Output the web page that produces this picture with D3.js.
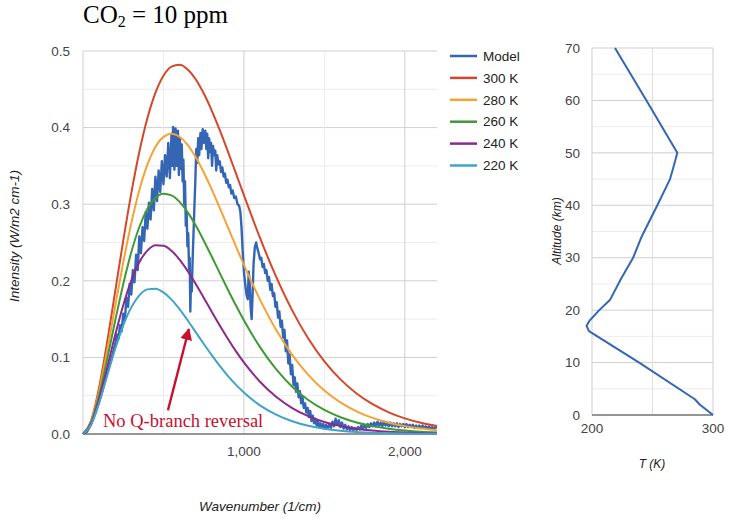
<!DOCTYPE html>
<html><head><meta charset="utf-8">
<script src="https://cdnjs.cloudflare.com/ajax/libs/d3/7.8.5/d3.min.js"></script>
<style>
body{margin:0;background:#fff;}
svg text{font-family:Arial,"Liberation Sans",sans-serif;}
svg text.serif{font-family:"Liberation Serif","Times New Roman",serif;}
</style></head><body>
<svg id="c" width="751" height="522"></svg>
<script>
// ---------- DATA ----------
const planckWn = [0,50,100,150,200,250,300,350,400,450,500,550,600,650,700,750,800,850,900,950,1000,1100,1200,1300,1400,1500,1600,1700,1800,1900,2000,2100,2200];
const planck300 = [0,0.0173,0.0608,0.1199,0.1860,0.2524,0.3142,0.3681,0.4122,0.4454,0.4677,0.4795,0.4819,0.4760,0.4632,0.4448,0.4222,0.3966,0.3690,0.3405,0.3118,0.2560,0.2054,0.1614,0.1247,0.0949,0.0713,0.0529,0.0389,0.0283,0.0204,0.0146,0.0104];
const planck280 = [0,0.0160,0.0557,0.1087,0.1668,0.2237,0.2751,0.3183,0.3516,0.3748,0.3879,0.3920,0.3881,0.3775,0.3616,0.3418,0.3194,0.2951,0.2701,0.2452,0.2208,0.1754,0.1360,0.1033,0.0772,0.0568,0.0412,0.0296,0.0210,0.0148,0.0103,0.0071,0.0049];
const planck260 = [0,0.0147,0.0506,0.0976,0.1479,0.1956,0.2372,0.2702,0.2939,0.3082,0.3137,0.3116,0.3031,0.2896,0.2724,0.2527,0.2317,0.2101,0.1887,0.1680,0.1484,0.1134,0.0846,0.0618,0.0444,0.0314,0.0219,0.0151,0.0103,0.0070,0.0047,0.0031,0.0021];
const planck240 = [0,0.0134,0.0456,0.0866,0.1292,0.1682,0.2004,0.2243,0.2394,0.2463,0.2457,0.2391,0.2277,0.2130,0.1961,0.1780,0.1596,0.1416,0.1243,0.1082,0.0934,0.0682,0.0486,0.0339,0.0233,0.0157,0.0105,0.0069,0.0045,0.0029,0.0019,0.0012,0.0007];
const planck220 = [0,0.0121,0.0405,0.0758,0.1109,0.1416,0.1653,0.1810,0.1888,0.1897,0.1848,0.1754,0.1629,0.1485,0.1332,0.1178,0.1029,0.0889,0.0760,0.0644,0.0541,0.0374,0.0253,0.0167,0.0108,0.0069,0.0044,0.0027,0.0017,0.0010,0.0006,0.0004,0.0002];

const modelWn = [0,25,50,75,100,125,150,175,200,210,220,230,240,250,260,270,280,290,300,310,320,330,340,350,360,370,380,390,400,410,420,430,440,450,460,470,480,490,500,510,520,530,540,550,555,560,568,575,582,590,596,602,608,614,619,624,629,634,639,644,649,654,659,663,667,671,676,682,690,698,704,710,716,722,730,736,744,752,760,766,772,778,784,790,796,802,808,815,822,828,834,842,850,858,866,874,882,890,898,906,914,922,930,940,950,960,970,978,985,992,1000,1008,1016,1024,1030,1036,1042,1048,1054,1060,1068,1076,1084,1092,1100,1108,1116,1124,1132,1140,1148,1156,1164,1172,1180,1188,1196,1204,1212,1220,1228,1236,1244,1252,1260,1268,1276,1284,1292,1300,1308,1316,1324,1332,1340,1348,1356,1364,1372,1380,1388,1396,1404,1412,1420,1428,1436,1444,1452,1460,1468,1476,1484,1492,1500,1510,1520,1530,1540,1550,1560,1570,1580,1590,1600,1610,1620,1630,1640,1650,1660,1670,1680,1690,1700,1710,1720,1730,1740,1750,1760,1770,1780,1790,1800,1810,1820,1830,1840,1850,1860,1870,1880,1890,1900,1910,1920,1930,1940,1950,1960,1970,1980,1990,2000,2010,2020,2030,2040,2050,2060,2070,2080,2090,2100,2110,2120,2130,2140,2150,2160,2170,2180,2190,2200];
const modelI = [0,0.003,0.0125,0.026,0.042,0.060,0.079,0.097,0.117,0.130,0.124,0.142,0.134,0.157,0.148,0.178,0.166,0.196,0.182,0.214,0.198,0.234,0.214,0.258,0.236,0.270,0.252,0.290,0.268,0.302,0.280,0.320,0.292,0.336,0.304,0.344,0.316,0.356,0.326,0.364,0.336,0.380,0.334,0.392,0.350,0.401,0.345,0.399,0.350,0.396,0.338,0.386,0.346,0.378,0.330,0.358,0.300,0.330,0.272,0.290,0.245,0.262,0.215,0.230,0.160,0.198,0.186,0.232,0.282,0.330,0.372,0.354,0.386,0.364,0.393,0.372,0.398,0.380,0.396,0.372,0.392,0.360,0.386,0.368,0.380,0.350,0.376,0.364,0.370,0.344,0.364,0.352,0.356,0.342,0.348,0.336,0.340,0.328,0.332,0.322,0.325,0.314,0.318,0.308,0.310,0.300,0.298,0.290,0.270,0.240,0.212,0.196,0.182,0.176,0.212,0.196,0.165,0.150,0.182,0.222,0.244,0.250,0.242,0.236,0.228,0.230,0.218,0.222,0.210,0.214,0.200,0.205,0.188,0.196,0.180,0.184,0.166,0.172,0.152,0.160,0.140,0.148,0.126,0.136,0.108,0.122,0.092,0.104,0.078,0.090,0.064,0.074,0.055,0.066,0.048,0.056,0.040,0.048,0.034,0.040,0.028,0.034,0.022,0.030,0.017,0.024,0.014,0.020,0.011,0.017,0.009,0.014,0.008,0.013,0.007,0.012,0.007,0.013,0.008,0.016,0.010,0.020,0.012,0.018,0.009,0.015,0.007,0.012,0.006,0.010,0.005,0.009,0.005,0.008,0.005,0.009,0.006,0.011,0.007,0.012,0.008,0.013,0.009,0.014,0.010,0.015,0.010,0.016,0.011,0.015,0.010,0.016,0.011,0.015,0.010,0.015,0.010,0.014,0.010,0.014,0.009,0.013,0.010,0.013,0.009,0.013,0.009,0.012,0.009,0.012,0.008,0.011,0.008,0.011,0.008,0.011,0.008,0.010,0.007,0.010,0.007,0.009,0.007,0.009,0.008];

const seriesNames = ["Model","300 K","280 K","260 K","240 K","220 K"];
const seriesColors = ["#3466b3","#d5472b","#f5a236","#3f9a35","#8c2a8c","#40a3c8"];

const intensityTicks = [0,0.1,0.2,0.3,0.4,0.5];
const wnTicks = [1000,2000];

const altKm = [0,2,3,10,16,17,18,20,22,26,30,34,40,45,47,50,60,70];
const tempK = [300,289,285,239,197.5,195.5,198,206,215,224,234,241,254,264.5,267,270.5,245,219];
const altTicks = [0,10,20,30,40,50,60,70];
const tempTicks = [200,300];

const titleMain = "CO", titleSub = "2", titleRest = " = 10 ppm";
const annotationText = "No Q-branch reversal";
const arrowFrom = [528, 0.031], arrowTo = [658, 0.137];

// ---------- CHART ----------
const svg = d3.select("#c");
const x = d3.scaleLinear().domain([0,2200]).range([83,437]);
const y = d3.scaleLinear().domain([0,0.5]).range([434,51]);

const gMain = svg.append("g");
d3.range(0,0.5001,0.05).forEach(v=>{
  const major = Math.abs(Math.round(v*10)-v*10)<1e-6;
  gMain.append("line").attr("x1",x(0)).attr("x2",x(2200)).attr("y1",y(v)).attr("y2",y(v))
    .attr("stroke", major?"#cfcfcf":"#ececec").attr("stroke-width",1);
});
[0,500,1000,1500,2000].forEach(v=>{
  const major = v%1000===0;
  gMain.append("line").attr("x1",x(v)).attr("x2",x(v)).attr("y1",y(0)).attr("y2",y(0.5))
    .attr("stroke", major?"#cfcfcf":"#ececec").attr("stroke-width",1);
});
gMain.append("line").attr("x1",x(0)).attr("x2",x(2200)).attr("y1",y(0)).attr("y2",y(0))
  .attr("stroke","#7a7a7a").attr("stroke-width",1.5);

gMain.selectAll(".yt").data(intensityTicks).join("text")
  .attr("x",70).attr("y",d=>y(d)).attr("dy","0.35em").attr("text-anchor","end")
  .attr("font-size",13.5).attr("fill","#444").text(d=>d3.format(".1f")(d));
gMain.selectAll(".xt").data(wnTicks).join("text")
  .attr("x",d=>x(d)).attr("y",456).attr("text-anchor","middle")
  .attr("font-size",13.5).attr("fill","#444").text(d=>d3.format(",")(d));

gMain.append("text").attr("transform","translate(19,236) rotate(-90)").attr("text-anchor","middle")
  .attr("font-size",13.5).attr("font-style","italic").attr("fill","#222").text("Intensity (W/m2 cm-1)");
gMain.append("text").attr("x",260).attr("y",511).attr("text-anchor","middle")
  .attr("font-size",13.5).attr("font-style","italic").attr("fill","#222").text("Wavenumber (1/cm)");

const modelData = modelWn.map((w,i)=>[w,modelI[i]]);
const planckSets = [planck300,planck280,planck260,planck240,planck220];
const lineLin = d3.line().x(d=>x(d[0])).y(d=>y(d[1]));
const lineSmooth = d3.line().x(d=>x(d[0])).y(d=>y(d[1])).curve(d3.curveMonotoneX);
svg.append("clipPath").attr("id","pc").append("rect")
  .attr("x",x(0)-2).attr("y",y(0.5)-5).attr("width",x(2200)-x(0)+3).attr("height",y(0)-y(0.5)+7);
const gSeries = gMain.append("g").attr("clip-path","url(#pc)");
gSeries.append("path").datum(modelData).attr("d",lineLin).attr("fill","none")
  .attr("stroke",seriesColors[0]).attr("stroke-width",2.4).attr("stroke-linejoin","round");
planckSets.forEach((arr,k)=>{
  gSeries.append("path").datum(planckWn.map((w,i)=>[w,arr[i]])).attr("d",lineSmooth)
    .attr("fill","none").attr("stroke",seriesColors[k+1]).attr("stroke-width",2);
});

const leg = svg.append("g");
seriesNames.forEach((n,i)=>{
  const ly = 56 + i*21.9;
  leg.append("line").attr("x1",450).attr("x2",477).attr("y1",ly).attr("y2",ly)
    .attr("stroke",seriesColors[i]).attr("stroke-width",2.5);
  leg.append("text").attr("x",483).attr("y",ly).attr("dy","0.35em")
    .attr("font-size",13.5).attr("fill","#222").text(n);
});

const tt = svg.append("text").attr("class","serif").attr("x",83).attr("y",23)
  .attr("font-size",25).attr("fill","#000");
tt.append("tspan").text(titleMain);
tt.append("tspan").attr("font-size",16).attr("dy",4).text(titleSub);
tt.append("tspan").attr("dy",-4).text(titleRest);

const red = "#c8102e";
svg.append("defs").append("marker").attr("id","ah").attr("viewBox","0 0 10 10")
  .attr("refX",9).attr("refY",5).attr("markerWidth",5).attr("markerHeight",5)
  .attr("orient","auto").attr("markerUnits","strokeWidth")
  .append("path").attr("d","M0,0 L10,5 L0,10 Z").attr("fill",red);
svg.append("line").attr("x1",x(arrowFrom[0])).attr("y1",y(arrowFrom[1]))
  .attr("x2",x(arrowTo[0])).attr("y2",y(arrowTo[1]))
  .attr("stroke",red).attr("stroke-width",2.4).attr("marker-end","url(#ah)");
svg.append("text").attr("class","serif").attr("x",103).attr("y",427)
  .attr("font-size",18.5).attr("fill",red).text(annotationText);

// ---------- RIGHT PANEL ----------
const tx = d3.scaleLinear().domain([200,300]).range([592,713]);
const ty = d3.scaleLinear().domain([0,70]).range([415,48]);
const gR = svg.append("g");
d3.range(0,71,5).forEach(v=>{
  gR.append("line").attr("x1",tx(200)).attr("x2",tx(300)).attr("y1",ty(v)).attr("y2",ty(v))
    .attr("stroke", v%10===0?"#cfcfcf":"#ececec").attr("stroke-width",1);
});
[200,250,300].forEach(v=>{
  gR.append("line").attr("x1",tx(v)).attr("x2",tx(v)).attr("y1",ty(0)).attr("y2",ty(70))
    .attr("stroke", v===250?"#e0e0e0":"#cfcfcf").attr("stroke-width",1);
});
gR.append("line").attr("x1",tx(200)).attr("x2",tx(300)).attr("y1",ty(0)).attr("y2",ty(0))
  .attr("stroke","#7a7a7a").attr("stroke-width",1.5);
gR.selectAll(".ayt").data(altTicks).join("text")
  .attr("x",580).attr("y",d=>ty(d)).attr("dy","0.35em").attr("text-anchor","end")
  .attr("font-size",13.5).attr("fill","#444").text(d=>d);
gR.selectAll(".axt").data(tempTicks).join("text")
  .attr("x",d=>tx(d)).attr("y",433).attr("text-anchor","middle")
  .attr("font-size",13.5).attr("fill","#444").text(d=>d);
gR.append("text").attr("transform","translate(561,231) rotate(-90)").attr("text-anchor","middle")
  .attr("font-size",12).attr("font-style","italic").attr("fill","#222").text("Altitude (km)");
gR.append("text").attr("x",652).attr("y",468).attr("text-anchor","middle")
  .attr("font-size",12).attr("font-style","italic").attr("fill","#222").text("T (K)");
const profile = altKm.map((a,i)=>[tempK[i],a]);
gR.append("path").datum(profile)
  .attr("d",d3.line().x(d=>tx(d[0])).y(d=>ty(d[1])))
  .attr("fill","none").attr("stroke",seriesColors[0]).attr("stroke-width",2).attr("stroke-linejoin","round");
</script>
</body></html>
